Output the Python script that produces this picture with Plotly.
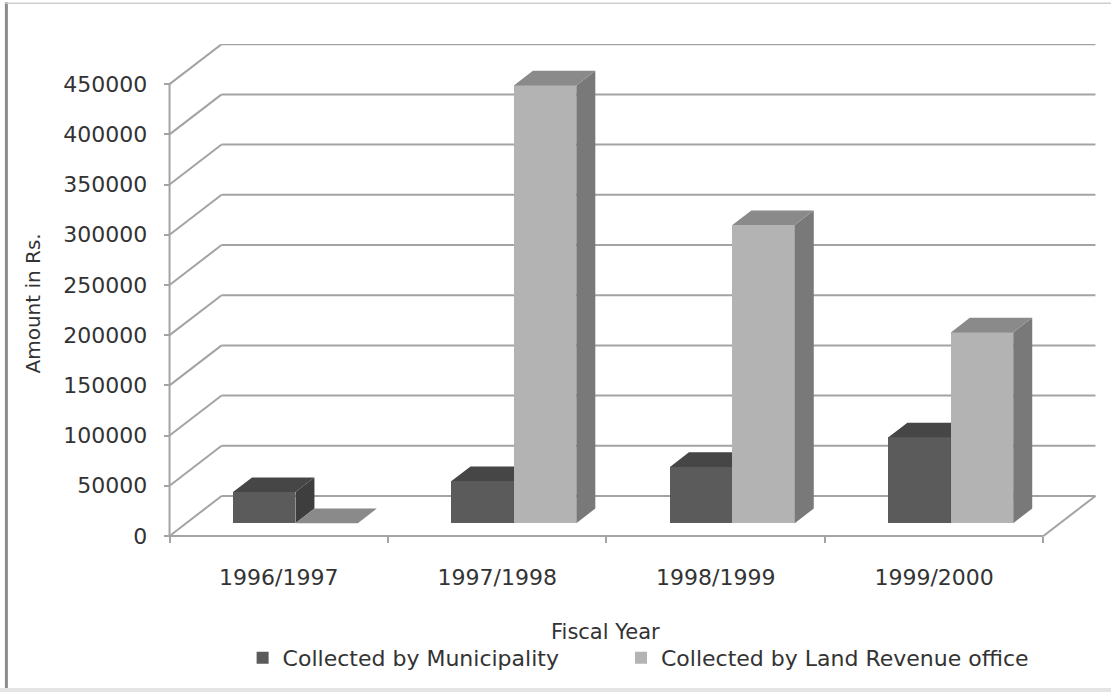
import plotly.graph_objects as go

# ---- data -------------------------------------------------------------
categories = ["1996/1997", "1997/1998", "1998/1999", "1999/2000"]
municipality = [31000, 42000, 56000, 85500]
land_revenue = [0, 436000, 297000, 190000]
y_tick_values = [0, 50000, 100000, 150000, 200000, 250000, 300000, 350000, 400000, 450000]
series_names = ["Collected by Municipality", "Collected by Land Revenue office"]

# ---- page geometry ----------------------------------------------------
W, H = 1111, 692
ORIGIN_PX = (170, 536)          # front-left floor corner on the page
CAT_PX = 218.25                 # width of one category slot
VAL_PX = 452 / 450000           # pixels per unit of value
XMIN, XMAX = -0.03, 4.25
YMIN, YMAX = -8000, 490000

ML = ORIGIN_PX[0] + XMIN * CAT_PX
PLOT_W = (XMAX - XMIN) * CAT_PX
MR = W - ML - PLOT_W
MB = H - (ORIGIN_PX[1] + (-YMIN) * VAL_PX)
PLOT_H = (YMAX - YMIN) * VAL_PX
MT = H - MB - PLOT_H

# oblique depth of the chart box (pixels) converted to data units
DX = 52 / CAT_PX
DY = 40 / VAL_PX
D_FRONT, D_BACK = 0.32, 0.685   # depth of bar front / back planes
BAR_W = 1 / (2 + 1.5)           # two bars per slot, 150% gap

GRID = "#a3a3a3"
TEXT = "#333333"
FONT = "DejaVu Sans"
styles = [
    dict(front="#5b5b5b", top="#464646", side="#3e3e3e"),
    dict(front="#b3b3b3", top="#8a8a8a", side="#797979"),
]
legend_ids = ["legend", "legend2"]
legend_left_px = [243, 621]


def proj(x, v, d):
    return x + d * DX, v + d * DY


def px_to_paper_x(px):
    return (px - ML) / PLOT_W


def px_to_paper_y(py):
    return (H - MB - py) / PLOT_H


fig = go.Figure()

for i, (name, values) in enumerate(zip(series_names, [municipality, land_revenue])):
    xa, ya = ("x", "y") if i == 0 else ("x2", "y2")
    lefts = [k + 0.5 + (i - 1) * BAR_W for k in range(len(categories))]
    fx, _ = proj(0, 0, D_FRONT)
    fig.add_trace(go.Bar(
        x=[l + BAR_W / 2 + fx for l in lefts],
        y=values,
        base=[D_FRONT * DY] * len(values),
        width=BAR_W,
        marker=dict(color=styles[i]["front"], line=dict(width=0)),
        name=name, xaxis=xa, yaxis=ya, legend=legend_ids[i],
    ))
    tx, ty, sx, sy = [], [], [], []
    for l, v in zip(lefts, values):
        r = l + BAR_W
        for p in [proj(l, v, D_FRONT), proj(r, v, D_FRONT), proj(r, v, D_BACK), proj(l, v, D_BACK), proj(l, v, D_FRONT)]:
            tx.append(p[0]); ty.append(p[1])
        tx.append(None); ty.append(None)
        for p in [proj(r, 0, D_FRONT), proj(r, v, D_FRONT), proj(r, v, D_BACK), proj(r, 0, D_BACK), proj(r, 0, D_FRONT)]:
            sx.append(p[0]); sy.append(p[1])
        sx.append(None); sy.append(None)
    fig.add_trace(go.Scatter(x=sx, y=sy, mode="lines", fill="toself", fillcolor=styles[i]["side"],
                             line=dict(width=0), showlegend=False, hoverinfo="skip", xaxis=xa, yaxis=ya))
    fig.add_trace(go.Scatter(x=tx, y=ty, mode="lines", fill="toself", fillcolor=styles[i]["top"],
                             line=dict(width=0), showlegend=False, hoverinfo="skip", xaxis=xa, yaxis=ya))

# ---- chart box: back-wall gridlines, side-wall diagonals, floor -------
n = len(categories)
shapes = []


def seg(p, q):
    shapes.append(dict(type="line", xref="x", yref="y", x0=p[0], y0=p[1], x1=q[0], y1=q[1],
                       line=dict(color=GRID, width=2), layer="below"))


for v in y_tick_values:
    seg(proj(0, v, 1), proj(n, v, 1))
    seg(proj(0, v, 0), proj(0, v, 1))
seg(proj(0, 0, 0), proj(n, 0, 0))
seg(proj(n, 0, 0), proj(n, 0, 1))
seg(proj(0, 0, 0), proj(0, y_tick_values[-1], 0))

# page frame
shapes.append(dict(type="line", xref="paper", yref="paper", x0=px_to_paper_x(7), x1=px_to_paper_x(7),
                   y0=px_to_paper_y(2), y1=px_to_paper_y(692), line=dict(color="#8c8c8c", width=3)))
shapes.append(dict(type="line", xref="paper", yref="paper", x0=px_to_paper_x(6), x1=px_to_paper_x(1111),
                   y0=px_to_paper_y(3), y1=px_to_paper_y(3), line=dict(color="#cfcfcf", width=1.5)))
shapes.append(dict(type="rect", xref="paper", yref="paper", x0=px_to_paper_x(0), x1=px_to_paper_x(1111),
                   y0=px_to_paper_y(688), y1=px_to_paper_y(692), line=dict(width=0), fillcolor="#e4e4e4"))

x_pos = (0 - YMIN) / (YMAX - YMIN)
y_pos = (0 - XMIN) / (XMAX - XMIN)

legend_style = dict(orientation="h", xanchor="left", y=px_to_paper_y(658), yanchor="middle",
                    bgcolor="rgba(0,0,0,0)", font=dict(size=22, family=FONT, color=TEXT))

fig.update_layout(
    width=W, height=H,
    margin=dict(l=ML, r=MR, t=MT, b=MB, autoexpand=False),
    paper_bgcolor="white", plot_bgcolor="rgba(0,0,0,0)",
    barmode="overlay", bargap=0,
    font=dict(family=FONT, color=TEXT),
    shapes=shapes,
    xaxis=dict(range=[XMIN, XMAX], tickmode="array", tickvals=[k + 0.5 for k in range(n)], ticktext=categories,
               ticks="", showgrid=False, zeroline=False, showline=False, anchor="free", position=x_pos,
               tickfont=dict(size=22, family=FONT, color=TEXT), ticklabelstandoff=26,
               minor=dict(tickmode="array", tickvals=list(range(n + 1)), ticks="outside", ticklen=6,
                          tickwidth=2, tickcolor=GRID, showgrid=False)),
    yaxis=dict(range=[YMIN, YMAX], tickmode="array", tickvals=y_tick_values,
               ticktext=[str(v) for v in y_tick_values], ticks="outside", ticklen=6, tickwidth=2,
               tickcolor=GRID, showgrid=False, zeroline=False, showline=False, anchor="free", position=y_pos,
               tickfont=dict(size=22, family=FONT, color=TEXT), ticklabelstandoff=12),
    xaxis2=dict(range=[XMIN, XMAX], overlaying="x", anchor="y2", visible=False),
    yaxis2=dict(range=[YMIN, YMAX], overlaying="y", anchor="x2", visible=False),
    legend=dict(x=px_to_paper_x(legend_left_px[0]), **legend_style),
    legend2=dict(x=px_to_paper_x(legend_left_px[1]), **legend_style),
    annotations=[
        dict(text="Fiscal Year", xref="paper", yref="paper", x=px_to_paper_x(606), y=px_to_paper_y(632),
             showarrow=False, font=dict(size=21, family=FONT, color=TEXT), xanchor="center", yanchor="middle"),
        dict(text="Amount in Rs.", xref="paper", yref="paper", x=px_to_paper_x(34), y=px_to_paper_y(303),
             showarrow=False, textangle=-90, font=dict(size=20, family=FONT, color=TEXT),
             xanchor="center", yanchor="middle"),
    ],
)

fig.write_html("out.html")
